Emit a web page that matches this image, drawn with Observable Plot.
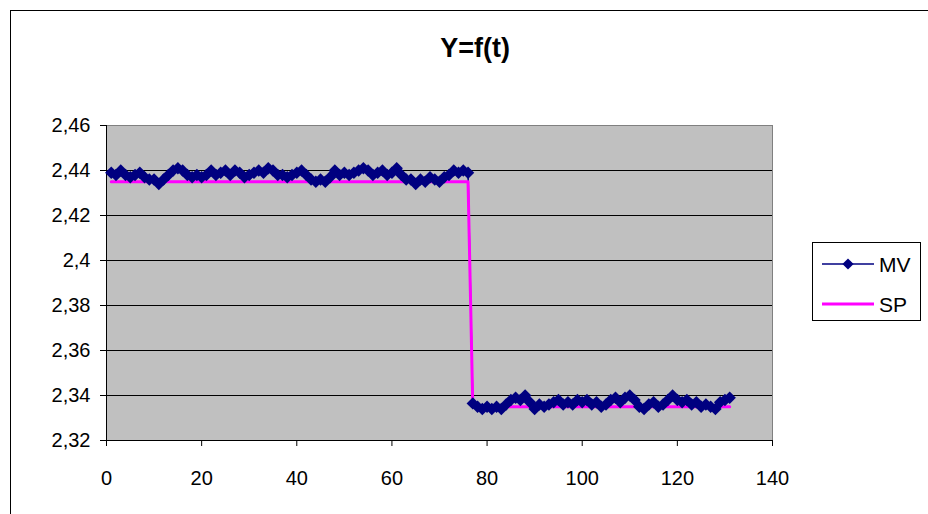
<!DOCTYPE html>
<html>
<head>
<meta charset="utf-8">
<script src="https://cdn.jsdelivr.net/npm/d3@7"></script>
<script src="https://cdn.jsdelivr.net/npm/@observablehq/plot@0.6"></script>
<style>
  html, body { margin: 0; padding: 0; background: white; }
  #wrap { position: relative; width: 928px; height: 514px; overflow: hidden; font-family: "Liberation Sans", Arial, sans-serif; }
  #border { position: absolute; left: 10px; top: 10px; width: 960px; height: 560px; border: 1px solid black; box-sizing: border-box; }
  #chart { position: absolute; left: 0; top: 0; }
  #title { position: absolute; left: 0; width: 950px; top: 33px; text-align: center; font-weight: bold; font-size: 27px; line-height: 30px; }
  #legend { position: absolute; left: 812px; top: 242px; width: 109px; height: 79px; border: 1px solid black; box-sizing: border-box; background: white; }
</style>
</head>
<body>
<div id="wrap">
  <div id="border"></div>
  <div id="chart"></div>
  <div id="title">Y=f(t)</div>
  <div id="legend"></div>
</div>
<script>
// MV samples, t = 1 .. 131 (one per time unit)
const mvStart = 1;
const mvValues = [
  2.439, 2.438, 2.440, 2.438, 2.437, 2.438, 2.439, 2.437, 2.436, 2.436,
  2.434, 2.436, 2.438, 2.440, 2.441, 2.440, 2.438, 2.437, 2.438, 2.437,
  2.438, 2.440, 2.438, 2.439, 2.440, 2.438, 2.440, 2.439, 2.437, 2.438,
  2.439, 2.440, 2.439, 2.441, 2.440, 2.438, 2.438, 2.437, 2.438, 2.439,
  2.440, 2.438, 2.436, 2.435, 2.436, 2.435, 2.437, 2.440, 2.438, 2.439,
  2.438, 2.439, 2.440, 2.441, 2.440, 2.438, 2.439, 2.440, 2.438, 2.439,
  2.441, 2.438, 2.436, 2.436, 2.434, 2.436, 2.435, 2.437, 2.436, 2.435,
  2.437, 2.438, 2.440, 2.439, 2.440, 2.439,
  2.3365, 2.335, 2.334, 2.335, 2.334, 2.335, 2.334, 2.336, 2.338, 2.339,
  2.338, 2.340, 2.337, 2.334, 2.336, 2.335, 2.336, 2.337, 2.338, 2.336,
  2.337, 2.336, 2.338, 2.337, 2.338, 2.336, 2.337, 2.335, 2.336, 2.338,
  2.339, 2.337, 2.339, 2.340, 2.338, 2.335, 2.334, 2.336, 2.337, 2.335,
  2.336, 2.338, 2.340, 2.338, 2.337, 2.338, 2.336, 2.337, 2.335, 2.336,
  2.335, 2.334, 2.337, 2.338, 2.339
];
// SP set point (breakpoints)
const spTimes  = [1, 76, 77, 131];
const spValues = [2.435, 2.435, 2.335, 2.335];

const xTicks = [0, 20, 40, 60, 80, 100, 120, 140];
const yTicks = [2.32, 2.34, 2.36, 2.38, 2.40, 2.42, 2.44, 2.46];
const gridValues = [2.34, 2.36, 2.38, 2.40, 2.42, 2.44];
const seriesNames = ["MV", "SP"];
const seriesColors = ["#000080", "#FF00FF"];

const mv = mvValues.map((v, i) => ({t: mvStart + i, v}));
const sp = spTimes.map((t, i) => ({t, v: spValues[i]}));
const fmt = d => String(+d.toFixed(2)).replace(".", ",");

const chart = Plot.plot({
  width: 928,
  height: 514,
  marginLeft: 106,
  marginRight: 156,
  marginTop: 125,
  marginBottom: 74,
  style: {fontFamily: "'Liberation Sans', Arial, sans-serif", fontSize: "20px", background: "transparent", color: "black", overflow: "visible"},
  x: {domain: [0, 140]},
  y: {domain: [2.32, 2.46]},
  marks: [
    Plot.frame({fill: "#C0C0C0", stroke: "#808080"}),
    Plot.ruleY(gridValues, {stroke: "black", strokeWidth: 1}),
    Plot.ruleX([0], {stroke: "black"}),
    Plot.ruleY([2.32], {stroke: "black"}),
    Plot.axisY({ticks: yTicks, tickSize: 6, tickPadding: 10, tickFormat: fmt, label: null, fontSize: 20}),
    Plot.axisX({ticks: xTicks, tickSize: 6, tickPadding: 24, label: null, fontSize: 20}),
    Plot.line(mv, {x: "t", y: "v", stroke: seriesColors[0], strokeWidth: 1.5}),
    Plot.line(sp, {x: "t", y: "v", stroke: seriesColors[1], strokeWidth: 3}),
    Plot.dot(mv, {x: "t", y: "v", symbol: "diamond2", r: 5.6, fill: seriesColors[0], stroke: "none"})
  ]
});
document.getElementById("chart").appendChild(chart);

// Legend
const lg = d3.select("#legend").append("svg").attr("width", 107).attr("height", 77)
  .style("font-family", "'Liberation Sans', Arial, sans-serif").style("font-size", "21px");
const rows = [21, 61];
seriesNames.forEach((name, i) => {
  const y = rows[i];
  lg.append("line").attr("x1", 9).attr("x2", 61).attr("y1", y).attr("y2", y)
    .attr("stroke", seriesColors[i]).attr("stroke-width", i === 0 ? 1.5 : 3);
  if (i === 0) {
    lg.append("path").attr("d", d3.symbol(d3.symbolDiamond2, 80)()).attr("transform", `translate(35,${y})`).attr("fill", seriesColors[0]);
  }
  lg.append("text").attr("x", 66).attr("y", y).attr("dy", "0.36em").text(name);
});
</script>
</body>
</html>
